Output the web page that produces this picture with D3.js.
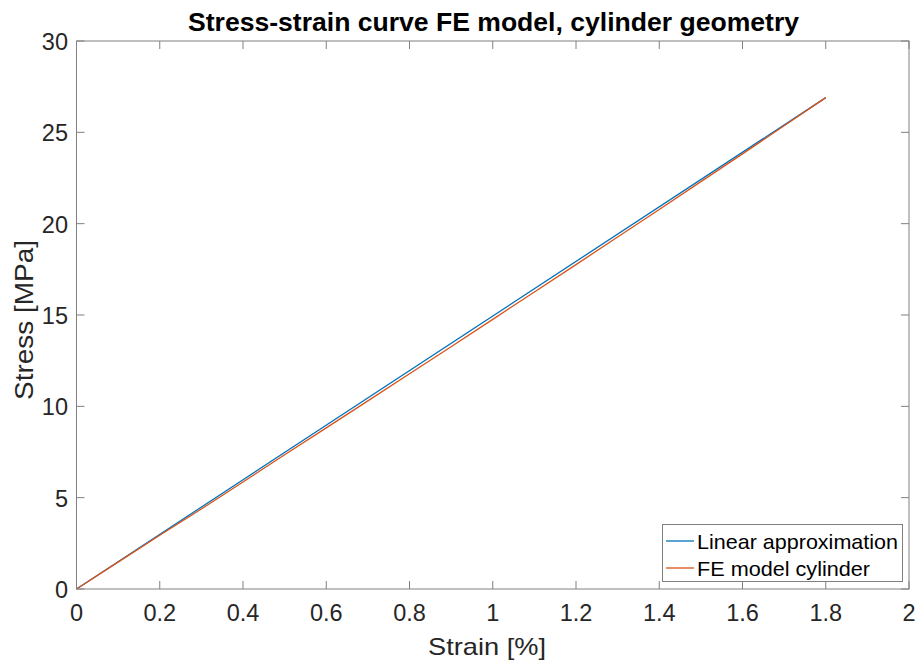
<!DOCTYPE html>
<html>
<head>
<meta charset="utf-8">
<script src="https://cdn.jsdelivr.net/npm/d3@7"></script>
<style>
  body { margin: 0; background: #fff; }
  text { font-family: "Liberation Sans", Arial, Helvetica, sans-serif; fill: #262626; }
</style>
</head>
<body>
<div id="chart"></div>
<script>
const width = 922;
const height = 666;

// data
const linearStrain = [0, 1.8];
const linearStress = [0, 26.9];

const feStrain = [0, 0.1, 0.2, 0.3, 0.4, 0.5, 0.6, 0.7, 0.8, 0.9, 1.0, 1.1, 1.2, 1.3, 1.4, 1.5, 1.6, 1.7, 1.8];
const feStress = [0, 1.47, 2.94, 4.38, 5.86, 7.35, 8.82, 10.30, 11.78, 13.26, 14.76, 16.26, 17.76, 19.27, 20.78, 22.30, 23.82, 25.36, 26.9];

const xTicks = [0, 0.2, 0.4, 0.6, 0.8, 1, 1.2, 1.4, 1.6, 1.8, 2];
const yTicks = [0, 5, 10, 15, 20, 25, 30];

const seriesNames = ['Linear approximation', 'FE model cylinder'];
const seriesColors = ['#0072BD', '#D95319'];

const plot = { left: 76.5, right: 909, top: 41, bottom: 589 };

const x = d3.scaleLinear().domain([0, 2]).range([plot.left, plot.right]);
const y = d3.scaleLinear().domain([0, 30]).range([plot.bottom, plot.top]);

const svg = d3.select('#chart').append('svg')
    .attr('width', width)
    .attr('height', height);

const axisColor = '#808080';
const tickLen = 8;

// series
const line = d3.line().x(d => x(d[0])).y(d => y(d[1]));

svg.append('path')
    .datum(linearStrain.map((s, i) => [s, linearStress[i]]))
    .attr('d', line)
    .attr('fill', 'none')
    .attr('stroke', seriesColors[0])
    .attr('stroke-width', 1.3);

svg.append('path')
    .datum(feStrain.map((s, i) => [s, feStress[i]]))
    .attr('d', line)
    .attr('fill', 'none')
    .attr('stroke', seriesColors[1])
    .attr('stroke-width', 1.3);

// box
svg.append('rect')
    .attr('x', plot.left)
    .attr('y', plot.top)
    .attr('width', plot.right - plot.left)
    .attr('height', plot.bottom - plot.top)
    .attr('fill', 'none')
    .attr('stroke', axisColor)
    .attr('stroke-width', 1);

// x ticks
const gx = svg.append('g');
xTicks.forEach(t => {
    gx.append('line')
        .attr('x1', x(t)).attr('x2', x(t))
        .attr('y1', plot.bottom).attr('y2', plot.bottom - tickLen)
        .attr('stroke', axisColor);
    gx.append('line')
        .attr('x1', x(t)).attr('x2', x(t))
        .attr('y1', plot.top).attr('y2', plot.top + tickLen)
        .attr('stroke', axisColor);
    gx.append('text')
        .attr('x', x(t))
        .attr('y', 621)
        .attr('text-anchor', 'middle')
        .style('font-size', '23.5px')
        .text(t);
});

// y ticks
const gy = svg.append('g');
yTicks.forEach(t => {
    gy.append('line')
        .attr('x1', plot.left).attr('x2', plot.left + tickLen)
        .attr('y1', y(t)).attr('y2', y(t))
        .attr('stroke', axisColor);
    gy.append('line')
        .attr('x1', plot.right).attr('x2', plot.right - tickLen)
        .attr('y1', y(t)).attr('y2', y(t))
        .attr('stroke', axisColor);
    gy.append('text')
        .attr('x', 68)
        .attr('y', y(t) + 9)
        .attr('text-anchor', 'end')
        .style('font-size', '23.5px')
        .text(t);
});

// labels
svg.append('text')
    .attr('x', 487)
    .attr('y', 655)
    .attr('text-anchor', 'middle')
    .attr('textLength', 118)
    .attr('lengthAdjust', 'spacingAndGlyphs')
    .style('font-size', '24px')
    .text('Strain [%]');

svg.append('text')
    .attr('transform', `translate(33,320) rotate(-90)`)
    .attr('text-anchor', 'middle')
    .attr('textLength', 160)
    .attr('lengthAdjust', 'spacingAndGlyphs')
    .style('font-size', '25px')
    .text('Stress [MPa]');

svg.append('text')
    .attr('x', 493.5)
    .attr('y', 31)
    .attr('text-anchor', 'middle')
    .attr('textLength', 611)
    .attr('lengthAdjust', 'spacingAndGlyphs')
    .style('font-size', '25px')
    .style('font-weight', 'bold')
    .style('fill', '#000')
    .text('Stress-strain curve FE model, cylinder geometry');

// legend
const legend = svg.append('g');
legend.append('rect')
    .attr('x', 662.5).attr('y', 524.5)
    .attr('width', 240).attr('height', 57)
    .attr('fill', '#fff')
    .attr('stroke', axisColor);

const legendWidths = [201, 173];
seriesNames.forEach((name, i) => {
    const cy = 541 + i * 27;
    legend.append('line')
        .attr('x1', 666).attr('x2', 694)
        .attr('y1', cy).attr('y2', cy)
        .attr('stroke', seriesColors[i])
        .attr('stroke-width', 1.3);
    legend.append('text')
        .attr('x', 697)
        .attr('y', cy + 7.5)
        .attr('textLength', legendWidths[i])
        .attr('lengthAdjust', 'spacingAndGlyphs')
        .style('font-size', '21px')
        .style('fill', '#000')
        .text(name);
});
</script>
</body>
</html>
